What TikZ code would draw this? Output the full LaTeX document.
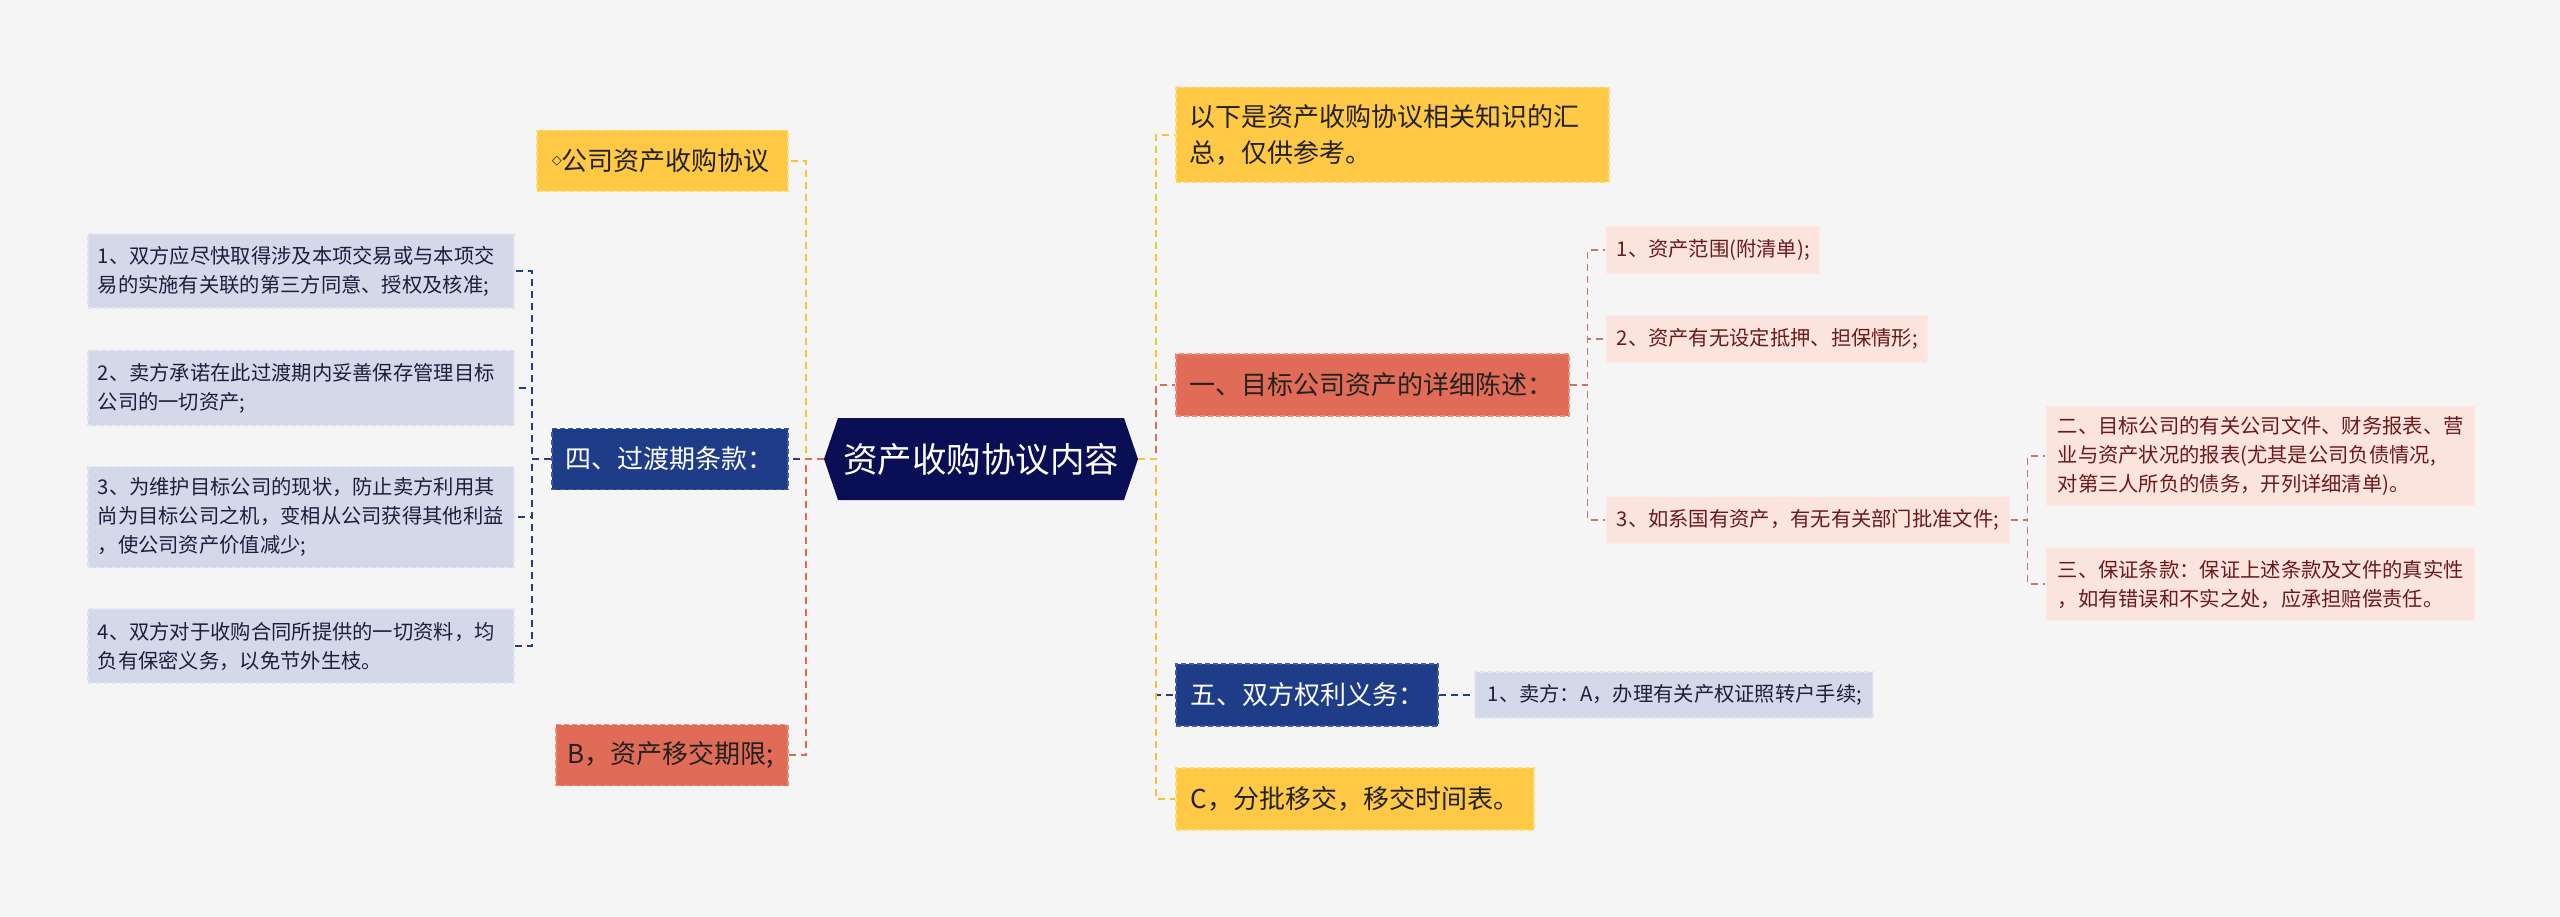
\documentclass[tikz,border=0pt]{standalone}
\usepackage{fontspec}
\setmainfont{Noto Sans CJK SC}
\newfontfamily\symfont{DejaVu Sans}
\definecolor{bg}{HTML}{F5F5F5}
\definecolor{yelF}{HTML}{FFC845}
\definecolor{yelB}{HTML}{FFDC73}
\definecolor{redF}{HTML}{E06C58}
\definecolor{redB}{HTML}{EC8C7A}
\definecolor{bluF}{HTML}{1F3C88}
\definecolor{bluB}{HTML}{3E5CA8}
\definecolor{navy}{HTML}{0A0F55}
\definecolor{lbF}{HTML}{D4D9EA}
\definecolor{lbB}{HTML}{E2E5F1}
\definecolor{pkF}{HTML}{FBE3DE}
\definecolor{pkB}{HTML}{FDEEEA}
\definecolor{ylLine}{HTML}{F4C23C}
\definecolor{rdLine}{HTML}{DF6A52}
\definecolor{blLine}{HTML}{243E84}
\definecolor{pkLine}{HTML}{C8756A}
\definecolor{txtDark}{HTML}{222222}
\definecolor{txtNavy}{HTML}{1E1E3C}
\definecolor{txtPink}{HTML}{6B1A1A}
\tikzset{
  box/.style={rectangle, draw, dash pattern=on 5pt off 3pt, line width=1.5pt,
    inner ysep=3pt, align=left, anchor=west},
  fsmall/.style={font=\fontsize{20.3pt}{29pt}\selectfont},
  fmed/.style={font=\fontsize{26pt}{36pt}\selectfont},
  yelbox/.style={box, fill=yelF, draw=yelB, text=txtDark, fmed},
  redbox/.style={box, fill=redF, draw=redB, text=txtDark, fmed},
  blubox/.style={box, fill=bluF, draw=bluB, text=white, fmed},
  lbbox/.style={box, fill=lbF, draw=lbB, text=txtNavy, fsmall},
  pkbox/.style={box, fill=pkF, draw=pkB, text=txtPink, fsmall},
  conn/.style={line width=2pt, dash pattern=on 7pt off 5pt},
  yconn/.style={conn, draw=ylLine},
  rconn/.style={conn, draw=rdLine},
  bconn/.style={conn, draw=blLine},
  pconn/.style={conn, draw=pkLine, line width=1.6pt},
}
\begin{document}
\begin{tikzpicture}[x=1pt,y=-1pt]
\fill[bg] (0,0) rectangle (2560,917);
\useasboundingbox (0,0) rectangle (2560,917);

% central hexagon
\fill[navy] (824,459) -- (838,418) -- (1124,418) -- (1138,459) -- (1124,500) -- (838,500) -- cycle;
\node[minimum width=314pt, minimum height=82pt, inner sep=0pt, text=white,
  font=\fontsize{34.5pt}{40pt}\selectfont] (c) at (981,459) {资产收购协议内容};

% left side
\node[yelbox, minimum width=251pt, minimum height=61pt, inner xsep=15pt, text width=221pt] (gs) at (536,161)
  {\raisebox{6pt}{\symfont\fontsize{13pt}{13pt}\selectfont ◇}公司资产收购协议};
\node[blubox, minimum width=236pt, minimum height=61pt, inner xsep=14pt, text width=208pt] (si) at (551,459)
  {四、过渡期条款：};
\node[redbox, minimum width=232pt, minimum height=61pt, inner xsep=12pt, text width=208pt] (B) at (555,755)
  {B，资产移交期限;};

\node[lbbox, minimum width=426pt, minimum height=74pt, inner xsep=10pt, text width=406pt] (l1) at (87,271)
  {1、双方应尽快取得涉及本项交易或与本项交\\易的实施有关联的第三方同意、授权及核准;};
\node[lbbox, minimum width=426pt, minimum height=75pt, inner xsep=10pt, text width=406pt] (l2) at (87,388)
  {2、卖方承诺在此过渡期内妥善保存管理目标\\公司的一切资产;};
\node[lbbox, minimum width=426pt, minimum height=101pt, inner xsep=10pt, text width=406pt] (l3) at (87,517)
  {3、为维护目标公司的现状，防止卖方利用其\\尚为目标公司之机，变相从公司获得其他利益\\，使公司资产价值减少;};
\node[lbbox, minimum width=426pt, minimum height=74pt, inner xsep=10pt, text width=406pt] (l4) at (87,646)
  {4、双方对于收购合同所提供的一切资料，均\\负有保密义务，以免节外生枝。};

% right side
\node[yelbox, minimum width=433pt, minimum height=95pt, inner xsep=14pt, text width=405pt] (yx) at (1175,135)
  {以下是资产收购协议相关知识的汇\\总，仅供参考。};
\node[redbox, minimum width=393pt, minimum height=62pt, inner xsep=14pt, text width=365pt] (yi) at (1175,385)
  {一、目标公司资产的详细陈述：};
\node[blubox, minimum width=262pt, minimum height=62pt, inner xsep=15pt, text width=232pt] (wu) at (1175,695)
  {五、双方权利义务：};
\node[yelbox, minimum width=358pt, minimum height=62pt, inner xsep=15pt, text width=328pt] (C) at (1175,799)
  {C，分批移交，移交时间表。};

\node[pkbox, minimum width=214pt, minimum height=48pt, inner xsep=11pt, text width=192pt] (r1) at (1605,250)
  {1、资产范围(附清单);};
\node[pkbox, minimum width=322pt, minimum height=47pt, inner xsep=11pt, text width=300pt] (r2) at (1605,339)
  {2、资产有无设定抵押、担保情形;};
\node[pkbox, minimum width=404pt, minimum height=47pt, inner xsep=11pt, text width=382pt] (r3) at (1605,520)
  {3、如系国有资产，有无有关部门批准文件;};
\node[pkbox, minimum width=429pt, minimum height=100pt, inner xsep=12pt, text width=405pt] (r3a) at (2045,456)
  {二、目标公司的有关公司文件、财务报表、营\\业与资产状况的报表(尤其是公司负债情况,\\对第三人所负的债务，开列详细清单)。};
\node[pkbox, minimum width=429pt, minimum height=73pt, inner xsep=12pt, text width=405pt] (r3b) at (2045,584)
  {三、保证条款：保证上述条款及文件的真实性\\，如有错误和不实之处，应承担赔偿责任。};
\node[lbbox, minimum width=398pt, minimum height=46pt, inner xsep=13pt, text width=372pt] (wc) at (1474,695)
  {1、卖方：A，办理有关产权证照转户手续;};

% connectors: left of centre
\draw[yconn] (c.west) -- ++(-18,0) |- (gs.east);
\draw[bconn] (c.west) -- ++(-18,0) |- (si.east);
\draw[rconn] (c.west) -- ++(-18,0) |- (B.east);
\foreach \k in {l1,l2,l3,l4}
  \draw[bconn, line width=1.6pt] (si.west) -- ++(-19,0) |- (\k.east);

% connectors: right of centre
\draw[yconn] (c.east) -- ++(18,0) |- (yx.west);
\draw[rconn] (c.east) -- ++(18,0) |- (yi.west);
\draw[bconn] (c.east) -- ++(18,0) |- (wu.west);
\draw[yconn] (c.east) -- ++(18,0) |- (C.west);
\foreach \k in {r1,r2,r3}
  \draw[pconn] (yi.east) -- ++(18,0) |- (\k.west);
\foreach \k in {r3a,r3b}
  \draw[pconn] (r3.east) -- ++(17,0) |- (\k.west);
\draw[bconn, line width=1.6pt] (wu.east) -- (wc.west);
\end{tikzpicture}
\end{document}
